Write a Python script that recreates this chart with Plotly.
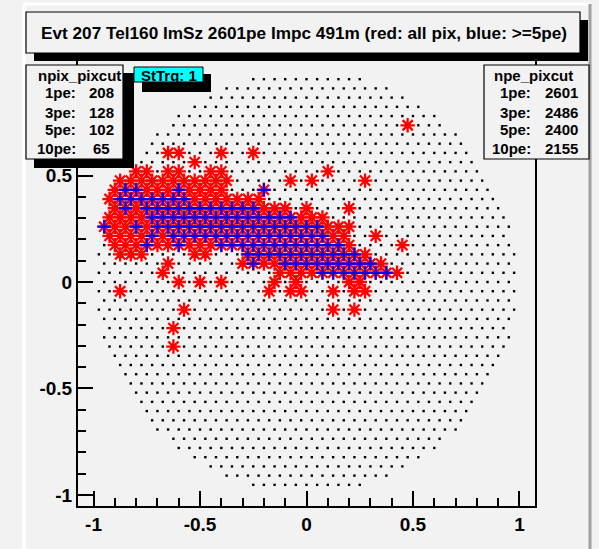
import numpy as np
import plotly.graph_objects as go

# ---------------- camera geometry (hexagonal pixel grid) ----------------
PITCH = 0.05
ROW_H = PITCH * np.sqrt(3) / 2
R_CAM = 0.99
N_ROWS = 22

# ---------------- event data (pixel column index n per row k) ----------------
# red-only pixels (signal present but < 5 pe)
RED_ROWS = [17, 14, 13, 12, 11, 10, 9, 8, 7, 6, 5, 4, 3, 2, 1, 0, -1, -3, -5, -7]
RED_COLS = [
    [9.5],
    [-13, -12, -8, -5],
    [-10.5],
    [-16, -15, -13, -12, -9, -8, 2],
    [-17.5, -16.5, -15.5, -14.5, -13.5, -12.5, -11.5, -10.5, -9.5, -8.5, -7.5, -1.5, 0.5, 5.5],
    [-18, -15, -14, -13, -11, -10, -9, -8],
    [-18.5, -10.5, -9.5, -8.5, -7.5, -6.5, -5.5, -4.5],
    [-18, -16, -4, -3, -2, 0, 4],
    [-18.5, -17.5, -16.5, -15.5, -0.5, 0.5, 1.5],
    [-18, -17, -15, 2, 3, 4],
    [-18.5, -17.5, -16.5, -15.5, -13.5, 2.5, 3.5, 6.5],
    [-18, -17, -16, -14, -13, -11, -10, -9, 4, 9],
    [-17.5, -16.5, -15.5, -10.5, -9.5, 5.5],
    [-13, -6, -4, -3, 7],
    [-13.5, -2.5, -1.5, -0.5, 0.5, 8.5],
    [-12, -10, -8, -3, -1, 4, 5],
    [-17.5, -3.5, -1.5, -0.5, 2.5, 4.5, 5.5],
    [-11.5, 2.5, 4.5],
    [-12.5],
    [-12.5],
]
# pixels with >= 5 pe
BLUE_ROWS = [10, 9, 8, 7, 6, 5, 4, 3, 2, 1]
BLUE_COLS = [
    [-17, -16, -12, -4],
    [-17.5, -16.5, -15.5, -14.5, -13.5, -12.5, -11.5],
    [-17, -15, -14, -13, -12, -11, -10, -9, -8, -7, -6, -5],
    [-14.5, -13.5, -12.5, -11.5, -10.5, -9.5, -8.5, -7.5, -6.5, -5.5, -4.5, -3.5, -2.5, -1.5],
    [-19, -16, -14, -13, -12, -11, -10, -9, -8, -7, -6, -5, -4, -3, -2, -1, 0, 1],
    [-14.5, -12.5, -11.5, -10.5, -9.5, -8.5, -7.5, -6.5, -5.5, -4.5, -3.5, -2.5, -1.5, -0.5, 0.5, 1.5],
    [-15, -12, -8, -7, -6, -5, -4, -3, -2, -1, 0, 1, 2, 3],
    [-5.5, -4.5, -3.5, -2.5, -1.5, -0.5, 0.5, 1.5, 2.5, 3.5, 4.5],
    [-5, -2, -1, 0, 1, 2, 3, 4, 5, 6],
    [1.5, 2.5, 3.5, 4.5, 5.5, 6.5, 7.5],
]

TITLE = "Evt 207 Tel160 ImSz 2601pe Impc 491m (red: all pix, blue: >=5pe)"
CUT_LABELS = ["1pe:", "3pe:", "5pe:", "10pe:"]
NPIX_VALUES = [208, 128, 102, 65]
NPE_VALUES = [2601, 2486, 2400, 2155]
STTRG = 1

X_TICK_VALS = [-1, -0.5, 0, 0.5, 1]
X_TICK_TEXT = ["-1", "-0.5", "0", "0.5", "1"]
Y_TICK_VALS = [-1, -0.5, 0, 0.5, 1]
Y_TICK_TEXT = ["-1", "-0.5", "0", "0.5", ""]   # "1" is hidden behind the npix box

# ---------------- build coordinates ----------------
def cells(rows, cols):
    xs, ys = [], []
    for k, ns in zip(rows, cols):
        for n in ns:
            xs.append(n * PITCH)
            ys.append(k * ROW_H)
    return xs, ys

gx, gy = [], []
for k in range(-N_ROWS, N_ROWS + 1):
    off = 0.5 if k % 2 else 0.0
    for j in range(-25, 26):
        x = (j + off) * PITCH
        y = k * ROW_H
        if x * x + y * y <= R_CAM ** 2:
            gx.append(x)
            gy.append(y)

rx, ry = cells(RED_ROWS, RED_COLS)
bx, by = cells(BLUE_ROWS, BLUE_COLS)
rx_all, ry_all = rx + bx, ry + by

W, H = 599, 549
BG = "#f2f2f2"
FONT = "Liberation Sans"

fig = go.Figure()
fig.add_trace(go.Scatter(x=gx, y=gy, mode="markers", hoverinfo="skip",
                         marker=dict(symbol="square", size=2.4, color="black", line=dict(width=0))))
fig.add_trace(go.Scatter(x=rx_all, y=ry_all, mode="markers", hoverinfo="skip",
                         marker=dict(symbol="asterisk", size=12, color="#ff0000",
                                     line=dict(color="#ff0000", width=2.3))))
fig.add_trace(go.Scatter(x=bx, y=by, mode="markers", hoverinfo="skip",
                         marker=dict(symbol="cross-thin", size=9.3, color="#0000ff",
                                     line=dict(color="#0000ff", width=2.3))))

def px(x):
    return x / W

def py(y):
    return 1 - y / H

axis_common = dict(
    showgrid=False, zeroline=False, showline=True, mirror=True,
    linecolor="black", linewidth=2,
    ticks="inside", ticklen=15, tickwidth=2, tickcolor="black",
    tickfont=dict(family=FONT, size=19, color="black", weight="bold"),
    minor=dict(ticks="inside", ticklen=8, tickwidth=2, tickcolor="black", dtick=0.1, tick0=0, showgrid=False),
    fixedrange=True,
)

fig.update_layout(
    width=W, height=H,
    margin=dict(l=0, r=0, t=0, b=0),
    paper_bgcolor=BG, plot_bgcolor=BG,
    showlegend=False,
    xaxis=dict(domain=[78 / W, 535 / W], range=[-1.073, 1.073],
               tickvals=X_TICK_VALS, ticktext=X_TICK_TEXT, **axis_common),
    yaxis=dict(domain=[1 - 506 / H, 1 - 61 / H], range=[-1.052, 1.038],
               tickvals=Y_TICK_VALS, ticktext=Y_TICK_TEXT, **axis_common),
)

shapes = []
def rect(x0, y0, x1, y1, fill, lc="black", lw=1):
    shapes.append(dict(type="rect", xref="paper", yref="paper",
                       x0=px(x0), x1=px(x1), y0=py(y1), y1=py(y0),
                       fillcolor=fill, line=dict(color=lc, width=lw), layer="above"))

def line(x0, y0, x1, y1, color, width):
    shapes.append(dict(type="line", xref="paper", yref="paper",
                       x0=px(x0), x1=px(x1), y0=py(y0), y1=py(y1),
                       line=dict(color=color, width=width), layer="above"))

# canvas bevel
line(24, 4, 24, H, "white", 3)
line(24, 4, 590, 4, "white", 3)
line(590, 4, 590, H, "#a0a0a0", 3)

# title box + shadow
rect(34, 20, 588, 61, "black", lw=0)
rect(26, 12, 580, 53, BG, lw=1.2)
# npix box + shadow
rect(34, 73, 134, 168, "black", lw=0)
rect(26, 65, 123, 159, BG, lw=1.2)
# StTrg box + shadow
rect(142, 74, 211, 92, "black", lw=0)
rect(134, 67, 203, 82, "#00ffff", lw=1)
# npe box
rect(484, 65, 589, 159, BG, lw=1.2)
fig.update_layout(shapes=shapes)

ann = []
def text(x, y, s, size, anchor="center"):
    ann.append(dict(xref="paper", yref="paper", x=px(x), y=py(y), text=s, showarrow=False,
                    xanchor=anchor, yanchor="middle",
                    font=dict(family=FONT, size=size, color="black", weight="bold")))

text(304, 33, TITLE, 17.2)
text(79, 75, "npix_pixcut", 15)
text(533, 75, "npe_pixcut", 15)
text(169, 75, f"StTrg: {STTRG}", 15)
rows_y = [93, 112, 130, 149]
for lab, v1, v2, yy in zip(CUT_LABELS, NPIX_VALUES, NPE_VALUES, rows_y):
    text(78, yy, lab, 15, "right")
    text(101, yy, str(v1), 15)
    text(533, yy, lab, 15, "right")
    text(580, yy, str(v2), 15, "right")
fig.update_layout(annotations=ann)

fig.write_html("out.html")
